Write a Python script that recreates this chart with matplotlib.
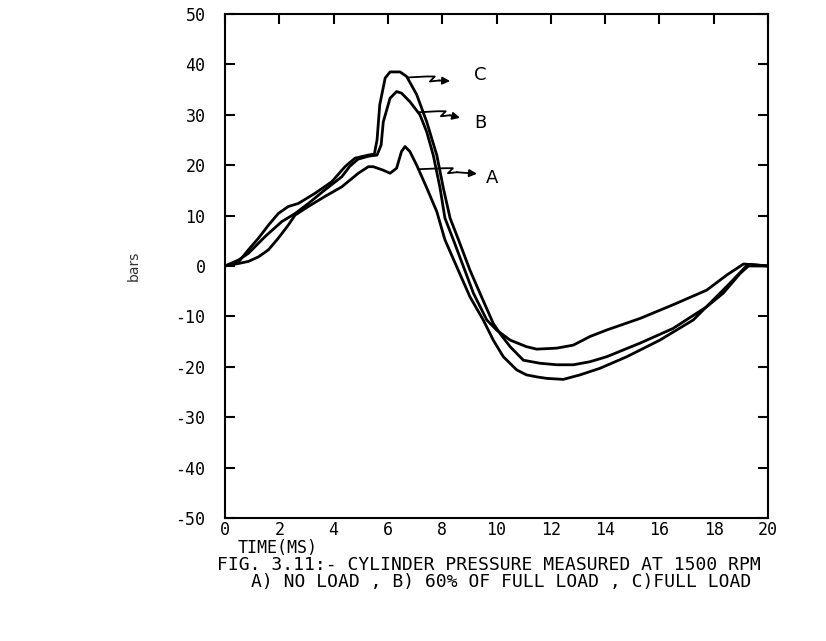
import numpy as np
import matplotlib
matplotlib.use('Agg')
import matplotlib.pyplot as plt

# Cylinder pressure traces (time in ms, bars)
time_a = [0, 0.5, 0.86, 1.23, 1.6, 1.96, 2.33, 2.58, 3.07, 3.68, 4.3, 4.91, 5.28,
          5.46, 5.83, 6.08, 6.32, 6.5, 6.63, 6.81, 7.06, 7.43, 7.8, 8.1, 8.53,
          9.02, 9.51, 9.88, 10.25, 10.74, 11.1, 11.48, 11.85, 12.46, 13.08,
          13.81, 14.8, 16.02, 17.25, 17.99, 18.6, 19.2, 20]
press_a = [0, 0.5, 0.9, 1.8, 3.2, 5.5, 8.1, 10.1, 11.8, 13.8, 15.7, 18.4, 19.7,
           19.7, 19.0, 18.4, 19.4, 22.7, 23.7, 22.7, 20.0, 15.5, 10.8, 5.2, -0.1,
           -6.1, -10.7, -14.7, -18.0, -20.6, -21.6, -22.0, -22.3, -22.5, -21.6,
           -20.3, -18.0, -14.7, -10.7, -6.7, -3.4, 0, 0]

time_b = [0, 0.5, 0.86, 1.47, 2.09, 2.58, 3.07, 3.68, 4.3, 4.6, 4.9, 5.3, 5.6,
          5.75, 5.83, 6.08, 6.32, 6.5, 6.81, 7.18, 7.43, 7.67, 7.92, 8.1, 8.41,
          8.78, 9.15, 9.64, 10.0, 10.5, 11.1, 11.48, 12.22, 12.83, 13.44, 14.06,
          15.29, 16.5, 17.74, 18.48, 19.1, 20]
press_b = [0, 1.2, 2.5, 5.8, 8.8, 10.4, 12.4, 15.1, 17.7, 19.8, 21.2, 21.8, 22.0,
           24.0, 28.6, 33.3, 34.6, 34.3, 32.6, 30.0, 26.6, 22.0, 15.5, 9.5, 5.2,
           -0.1, -5.4, -10.7, -12.7, -14.7, -16.0, -16.5, -16.3, -15.7, -14.0,
           -12.7, -10.4, -7.7, -4.8, -1.8, 0.4, 0]

time_c = [0, 0.5, 0.86, 1.23, 1.6, 1.96, 2.33, 2.7, 3.31, 3.93, 4.42, 4.79, 5.28,
          5.5, 5.6, 5.7, 5.9, 6.08, 6.45, 6.69, 7.06, 7.43, 7.8, 8.04, 8.29, 8.6,
          9.02, 9.39, 9.88, 10.13, 10.5, 10.99, 11.6, 12.22, 12.83, 13.44, 14.06,
          15.29, 16.5, 17.74, 18.35, 18.97, 19.34, 20]
press_c = [0, 0.8, 3.2, 5.5, 8.1, 10.4, 11.8, 12.4, 14.4, 16.7, 19.7, 21.4, 22.0,
           22.2, 25.0, 32.0, 37.3, 38.5, 38.5, 37.6, 34.0, 28.6, 22.0, 15.5, 9.5,
           5.2, -0.8, -5.4, -11.4, -13.4, -16.0, -18.7, -19.3, -19.6, -19.6, -19.0,
           -18.0, -15.3, -12.4, -8.1, -5.4, -1.5, 0.3, 0]

x_ticks = [0, 2, 4, 6, 8, 10, 12, 14, 16, 18, 20]
y_ticks = [-50, -40, -30, -20, -10, 0, 10, 20, 30, 40, 50]
curve_labels = ['A', 'B', 'C']
# pointer: leaves the curve at start, arrow head at tip, letter after it
pointer_starts = [(7.12, 19.2), (7.15, 30.5), (6.72, 37.4)]
pointer_tips = [(9.28, 18.3), (8.66, 29.4), (8.29, 36.7)]
letter_pos = [(9.85, 17.4), (9.4, 28.3), (9.4, 37.8)]

mono = 'DejaVu Sans Mono'

fig = plt.figure(figsize=(8.26, 6.41), dpi=100)
ax = fig.add_axes([0.2724, 0.1919, 0.6574, 0.7863])

for t, p in [(time_a, press_a), (time_b, press_b), (time_c, press_c)]:
    ax.plot(t, p, color='black', lw=2.0, solid_joinstyle='round')

ax.set_xlim(0, 20)
ax.set_ylim(-50, 50)

for sp in ax.spines.values():
    sp.set_linewidth(1.5)

ax.set_xticks(x_ticks)
ax.set_yticks(y_ticks)
ax.set_xticklabels([str(v) for v in x_ticks], family=mono, fontsize=12)
ax.set_yticklabels([str(v) for v in y_ticks], family=mono, fontsize=12)
ax.tick_params(axis='y', direction='in', length=7, width=1.5, pad=14,
               left=True, right=True)
ax.tick_params(axis='x', direction='in', length=7, width=1.5, pad=2,
               bottom=False, top=True)

ax.set_ylabel('bars', fontsize=10, color='#333333', labelpad=25)

# pointers: straight run, a little zig-zag, then the arrow head
for (x0, y0), (x1, y1), (lx, ly), lab in zip(pointer_starts, pointer_tips,
                                            letter_pos, curve_labels):
    L = x1 - x0
    xm = x0 + 0.45 * L
    zx = [x0, xm, xm + 0.3, xm + 0.12, xm + 0.45]
    zy = [y0, y0 + 0.2, y0 + 0.2, y0 - 0.8, y0 - 0.6]
    ax.plot(zx, zy, color='black', lw=1.3)
    ax.annotate('', xy=(x1, y1), xytext=(xm + 0.45, y0 - 0.6),
                arrowprops=dict(arrowstyle='-|>', color='black', lw=1.3,
                                mutation_scale=11, shrinkA=0, shrinkB=0))
    ax.text(lx, ly, lab, fontsize=13, family='Liberation Sans Narrow',
            va='center', ha='center')

fig.text(0.288, 1 - 548 / 641, 'TIME(MS)', family=mono, fontsize=12,
         va='center')
fig.text(0.592, 1 - 565 / 641, 'FIG. 3.11:- CYLINDER PRESSURE MEASURED AT 1500 RPM',
         family=mono, fontsize=13, ha='center', va='center')
fig.text(0.607, 1 - 582 / 641, 'A) NO LOAD , B) 60% OF FULL LOAD , C)FULL LOAD',
         family=mono, fontsize=13, ha='center', va='center')

plt.savefig('out.png', dpi=100)
